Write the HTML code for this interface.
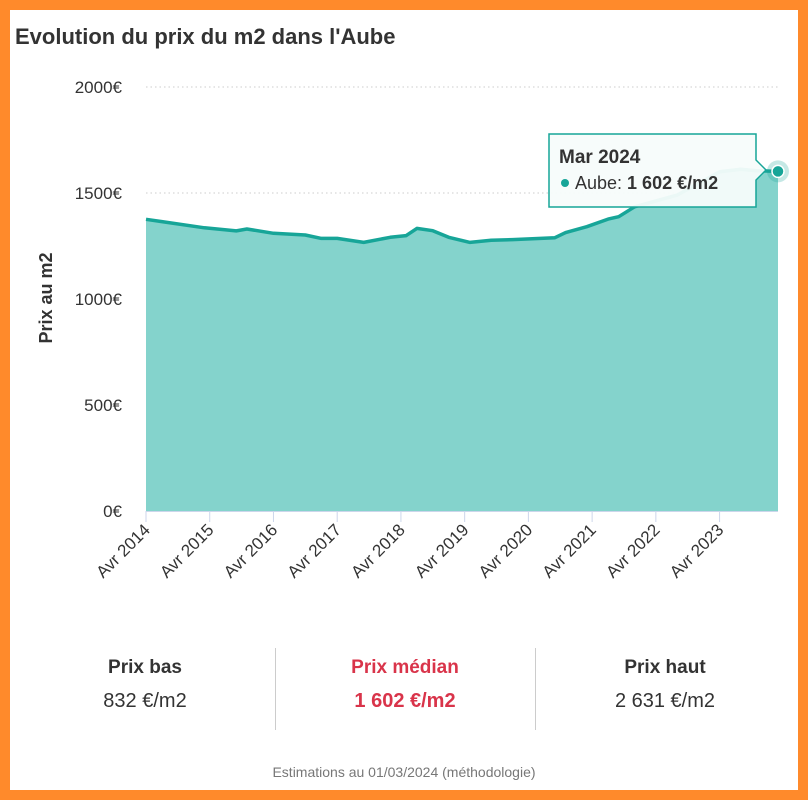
<!DOCTYPE html>
<html><head><meta charset="utf-8"><style>
body{margin:0;width:808px;height:800px;background:#ff8a2b;font-family:"Liberation Sans",sans-serif;position:relative;overflow:hidden}
#card{position:absolute;left:10px;top:10px;width:788px;height:780px;background:#fff}
.t{position:absolute;color:#333}
</style></head><body>
<div id="card"></div>
<div class="t" style="left:15px;top:24px;font-size:22px;font-weight:bold;color:#333">Evolution du prix du m2 dans l'Aube</div>
<svg id="chart" width="808" height="640" style="position:absolute;left:0;top:0"></svg>
<div style="position:absolute;left:15px;width:260px;top:657px;text-align:center">
<div style="font-size:19px;font-weight:bold;color:#333">Prix bas</div><div style="font-size:20px;color:#333;margin-top:11px">832 €/m2</div></div>
<div style="position:absolute;left:275px;width:260px;top:657px;text-align:center">
<div style="font-size:19px;font-weight:bold;color:#d9344a">Prix médian</div><div style="font-size:20px;font-weight:bold;color:#d9344a;margin-top:11px">1 602 €/m2</div></div>
<div style="position:absolute;left:535px;width:260px;top:657px;text-align:center">
<div style="font-size:19px;font-weight:bold;color:#333">Prix haut</div><div style="font-size:20px;color:#333;margin-top:11px">2 631 €/m2</div></div>
<div style="position:absolute;left:275px;top:648px;width:1px;height:82px;background:#ccc"></div>
<div style="position:absolute;left:535px;top:648px;width:1px;height:82px;background:#ccc"></div>
<div style="position:absolute;left:0;width:808px;top:764px;text-align:center;font-size:14px;color:#777">Estimations au 01/03/2024 (méthodologie)</div>
<script>
const months=[0,3,11,17,19,24,30,33,36,41,46,49,51,54,57,61,65,69,77,79,83,87,89,92,100,108,112,115,119];
const prices=[1376,1365,1336,1321,1330,1310,1302,1286,1286,1267,1291,1299,1333,1322,1291,1267,1277,1280,1289,1313,1341,1377,1388,1435,1490,1600,1612,1605,1602];
const yTicks=[0,500,1000,1500,2000];
const xLabels=["Avr 2014","Avr 2015","Avr 2016","Avr 2017","Avr 2018","Avr 2019","Avr 2020","Avr 2021","Avr 2022","Avr 2023"];
const NS="http://www.w3.org/2000/svg",svg=document.getElementById('chart');
const X=m=>146+m*(632/119), Y=v=>511-v*424/2000;
function el(t,a,p){const e=document.createElementNS(NS,t);for(const k in a)e.setAttribute(k,a[k]);(p||svg).appendChild(e);return e;}
yTicks.forEach(v=>{
 if(v>0){const g=el('line',{x1:146,x2:778,y1:Y(v),y2:Y(v),stroke:'#ccc','stroke-dasharray':'1.5,3'});
 
 }
 const t=el('text',{x:122,y:Y(v)+6,'text-anchor':'end','font-size':17,fill:'#333','font-family':'Liberation Sans'});t.textContent=v+'€';
 
 
});
const yt=el('text',{x:0,y:0,transform:'translate(52,298) rotate(-90)','text-anchor':'middle','font-size':18,'font-weight':'bold',fill:'#333','font-family':'Liberation Sans'});yt.textContent='Prix au m2';


let d='';months.forEach((m,i)=>{d+=(i?'L':'M')+X(m).toFixed(1)+','+Y(prices[i]).toFixed(1);});
const area=el('path',{d:d+'L'+X(119)+','+Y(0)+'L'+X(0)+','+Y(0)+'Z',fill:'#84d3cc'});


const line=el('path',{d:d,fill:'none',stroke:'#17a598','stroke-width':3.5,'stroke-linejoin':'round'});


const ax=el('line',{x1:146,x2:778,y1:511.5,y2:511.5,stroke:'#ccd6eb'});


xLabels.forEach((l,i)=>{const x=X(i*12);
 const tk=el('line',{x1:x,x2:x,y1:511,y2:522,stroke:'#ccd6eb'});
 
 
 const t=el('text',{x:0,y:0,transform:`translate(${x+5},${531}) rotate(-45)`,'text-anchor':'end','font-size':17,fill:'#333','font-family':'Liberation Sans'});t.textContent=l;
 
 
});
const li=months.length-1,px=X(months[li]),py=Y(prices[li]);
const halo=el('circle',{cx:px,cy:py,r:11,fill:'#17a598','fill-opacity':0.25});


const dot=el('circle',{cx:px,cy:py,r:6,fill:'#17a598',stroke:'#fff','stroke-width':1.5});


const tg=el('g',{});


el('path',{d:'M549,134H756V160L766,170L756,180V207H549Z',fill:'#f7fcfb','fill-opacity':0.95,stroke:'#17a598','stroke-width':1.5},tg);
const t1=el('text',{x:559,y:163,'font-size':19,'font-weight':'bold',fill:'#333','font-family':'Liberation Sans'},tg);t1.textContent='Mar 2024';
el('circle',{cx:565,cy:183,r:4,fill:'#17a598'},tg);
const t2=el('text',{x:575,y:189,'font-size':18,fill:'#333','font-family':'Liberation Sans'},tg);
t2.innerHTML='Aube: <tspan font-weight="bold">1 602 €/m2</tspan>';
</script>
</body></html>
